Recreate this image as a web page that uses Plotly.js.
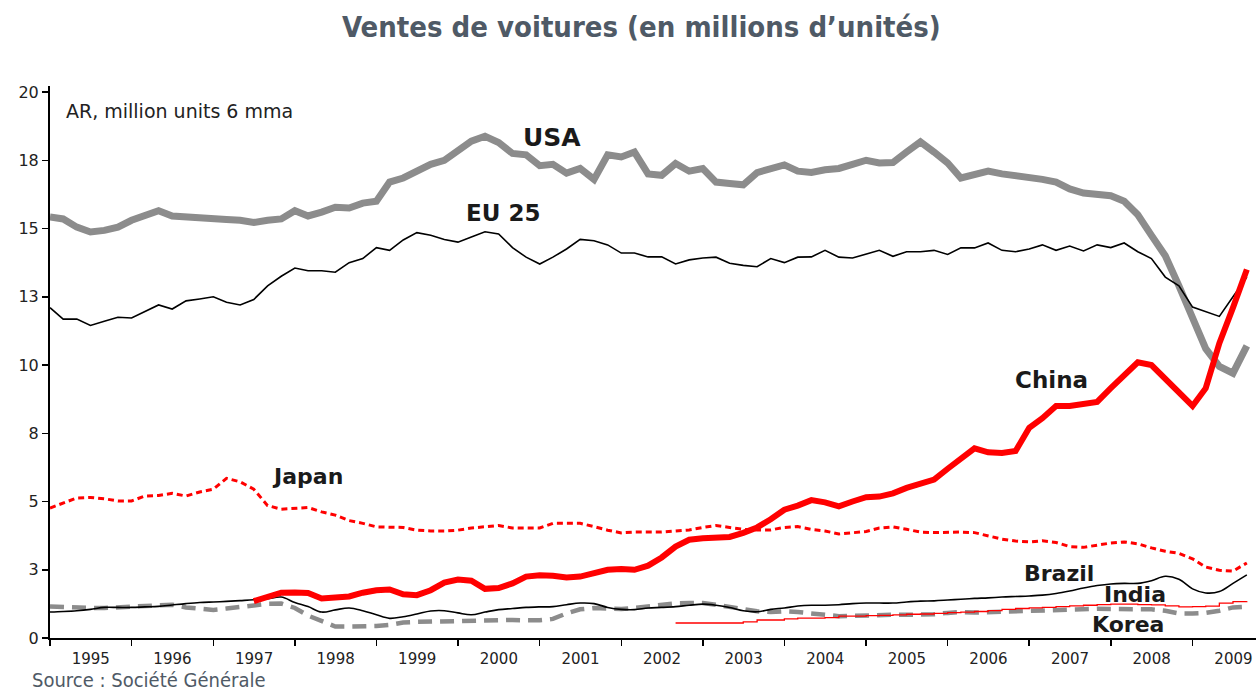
<!DOCTYPE html>
<html>
<head>
<meta charset="utf-8">
<script src="https://cdn.plot.ly/plotly-3.0.1.min.js"></script>
<style>html,body{margin:0;padding:0;background:#fff;}#chart{width:1260px;height:693px;}</style>
</head>
<body>
<div id="chart"></div>
<script>
// Bimonthly samples starting January 1995 (month index 0, step 2 months)
const usa = [15.42,15.35,15.05,14.87,14.93,15.05,15.3,15.5,15.65,15.46,
  15.42,15.36,15.31,15.33,15.3,15.22,15.3,15.35,15.65,15.46,
  15.6,15.78,15.75,15.93,16.0,16.7,16.85,17.1,17.35,17.5,
  17.85,18.2,18.38,18.15,17.75,17.7,17.3,17.35,17.03,17.2,
  16.8,17.7,17.62,17.8,17.0,16.95,17.38,17.1,17.2,16.7,
  16.65,16.6,17.05,17.2,17.33,17.1,17.05,17.15,17.2,17.35,
  17.5,17.4,17.42,17.8,18.17,17.8,17.4,16.85,17.0,17.1,
  17.0,16.95,16.88,16.8,16.7,16.45,16.3,16.27,16.2,16.0,
  15.5,14.75,14.0,12.9,11.76,10.6,9.95,9.7,10.7];
const eu25 = [12.1,11.68,11.68,11.45,11.6,11.75,11.72,11.95,12.2,12.05,
  12.35,12.42,12.5,12.3,12.2,12.4,12.9,13.25,13.55,13.45,
  13.45,13.4,13.75,13.9,14.3,14.2,14.58,14.85,14.75,14.6,
  14.5,14.69,14.88,14.8,14.3,13.95,13.7,13.95,14.25,14.6,
  14.55,14.4,14.1,14.1,13.96,13.96,13.7,13.85,13.92,13.95,
  13.73,13.65,13.6,13.9,13.75,13.95,13.96,14.2,13.95,13.92,
  14.05,14.2,13.98,14.15,14.15,14.2,14.05,14.29,14.29,14.47,
  14.2,14.15,14.25,14.4,14.2,14.36,14.18,14.4,14.3,14.47,
  14.15,13.9,13.22,12.9,12.12,11.94,11.78,12.5,13.22];
const japan = [4.76,4.94,5.13,5.15,5.1,5.02,5.02,5.2,5.22,5.3,
  5.2,5.35,5.45,5.85,5.72,5.45,4.85,4.72,4.75,4.78,
  4.62,4.5,4.3,4.2,4.07,4.07,4.05,3.95,3.92,3.92,
  3.95,4.03,4.08,4.12,4.03,4.03,4.03,4.2,4.2,4.2,
  4.08,3.95,3.85,3.88,3.88,3.88,3.92,3.96,4.05,4.12,
  4.05,3.98,3.96,3.96,4.05,4.08,3.98,3.92,3.81,3.85,
  3.9,4.03,4.07,3.98,3.88,3.86,3.88,3.88,3.86,3.75,
  3.62,3.55,3.52,3.56,3.5,3.35,3.32,3.4,3.48,3.52,
  3.45,3.3,3.18,3.1,2.9,2.6,2.48,2.45,2.75];
const brazil = [0.95,0.97,1.0,1.05,1.12,1.12,1.12,1.14,1.16,1.21,
  1.26,1.3,1.32,1.34,1.37,1.4,1.44,1.5,1.3,1.15,
  0.95,1.03,1.1,1.0,0.85,0.72,0.78,0.88,0.99,1.0,
  0.92,0.85,0.95,1.04,1.08,1.12,1.14,1.15,1.22,1.28,
  1.26,1.12,1.05,1.04,1.1,1.12,1.15,1.2,1.24,1.2,
  1.12,1.0,0.96,1.05,1.1,1.17,1.2,1.2,1.22,1.26,
  1.28,1.28,1.28,1.32,1.35,1.36,1.39,1.42,1.45,1.47,
  1.5,1.52,1.54,1.57,1.63,1.72,1.83,1.92,1.98,2.0,
  2.0,2.1,2.26,2.15,1.8,1.65,1.7,2.0,2.31];
const korea = [1.15,1.12,1.1,1.1,1.1,1.12,1.15,1.18,1.2,1.22,
  1.12,1.08,1.03,1.08,1.14,1.18,1.25,1.26,1.1,0.82,
  0.6,0.42,0.42,0.42,0.44,0.48,0.57,0.59,0.6,0.63,
  0.66,0.66,0.66,0.66,0.66,0.65,0.65,0.7,0.9,1.05,
  1.1,1.08,1.06,1.1,1.16,1.22,1.27,1.28,1.28,1.22,
  1.14,1.08,0.98,0.95,0.98,0.95,0.92,0.85,0.8,0.82,
  0.84,0.84,0.85,0.85,0.85,0.87,0.92,0.95,0.93,0.95,
  0.97,0.98,0.99,1.0,1.02,1.05,1.08,1.07,1.06,1.06,
  1.06,1.05,1.0,0.9,0.9,0.92,1.0,1.12,1.15];
// China starts July 1997 (month index 30), India starts September 2002 (month index 92)
const chinaStart = 30;
const china = [1.35,1.5,1.66,1.67,1.65,1.45,1.48,1.52,1.66,1.75,
  1.78,1.6,1.57,1.75,2.03,2.14,2.1,1.8,1.83,2.0,
  2.25,2.3,2.28,2.22,2.25,2.38,2.5,2.53,2.5,2.65,
  2.95,3.35,3.6,3.65,3.68,3.7,3.85,4.05,4.35,4.7,
  4.85,5.05,4.97,4.82,5.0,5.16,5.18,5.3,5.5,5.68,
  5.8,6.2,6.55,6.95,6.8,6.78,6.85,7.7,8.05,8.5,
  8.5,8.6,8.65,9.15,9.6,10.1,10.0,9.5,9.0,8.5,
  9.15,10.8,12.1,13.5];
const indiaStart = 92;
const india = [0.55,0.55,0.55,0.55,0.55,0.59,0.66,0.66,0.7,0.73,
  0.73,0.75,0.8,0.8,0.82,0.83,0.85,0.87,0.88,0.9,
  0.93,0.95,0.97,1.0,1.05,1.08,1.1,1.12,1.15,1.18,
  1.2,1.22,1.24,1.24,1.22,1.21,1.18,1.14,1.15,1.17,
  1.28,1.33,1.35];

const yTickVals = [0,2.5,5,7.5,10,12.5,15,17.5,20];
const yTickText = ['0','3','5','8','10','13','15','18','20'];

function dates(startMonth, n, step) {
  const out = [];
  for (let k = 0; k < n; k++) {
    const m = startMonth + k * step;
    const y = 1995 + Math.floor(m / 12);
    const mm = (m % 12) + 1;
    out.push(y + '-' + (mm < 10 ? '0' : '') + mm + '-01');
  }
  return out;
}

const GRAY = '#8c8c8c';
const traces = [
  {name:'USA', x:dates(0, usa.length, 2), y:usa, mode:'lines', line:{color:GRAY, width:7}},
  {name:'EU 25', x:dates(0, eu25.length, 2), y:eu25, mode:'lines', line:{color:'#000', width:1.6}},
  {name:'Japan', x:dates(0, japan.length, 2), y:japan, mode:'lines', line:{color:'#ff0000', width:3, dash:'6px,4px'}},
  {name:'Korea', x:dates(0, korea.length, 2), y:korea, mode:'lines', line:{color:GRAY, width:4.5, dash:'14px,8px'}},
  {name:'Brazil', x:dates(0, brazil.length, 2), y:brazil, mode:'lines', line:{color:'#000', width:1.6, shape:'spline'}},
  {name:'India', x:dates(indiaStart, india.length, 2), y:india, mode:'lines', line:{color:'#ff0000', width:1.3, shape:'hv'}},
  {name:'China', x:dates(chinaStart, china.length, 2), y:china, mode:'lines', line:{color:'#ff0000', width:6}}
];

const labFont = {family:'DejaVu Sans, Arial, sans-serif', size:23, color:'#1a1a1a', weight:'bold'};
function lab(text, x, y, size) {
  return {text:'<b>'+text+'</b>', x:x, y:y, xref:'x', yref:'y', showarrow:false,
    xanchor:'center', yanchor:'middle', font:Object.assign({}, labFont, {size:size})};
}

const layout = {
  width:1260, height:693,
  margin:{l:50, r:4, t:86, b:55},
  paper_bgcolor:'#fff', plot_bgcolor:'#fff',
  showlegend:false,
  title:{text:'<b>Ventes de voitures (en millions d\u2019unités)</b>', xref:'container', yref:'container',
    x:0.509, y:0.961, xanchor:'center', yanchor:'middle',
    font:{family:'Liberation Sans Narrow, DejaVu Sans Condensed, Arial Narrow, sans-serif', size:29, color:'#4f5a66'}},
  xaxis:{type:'date', range:['1995-01-01','2009-10-12'], tick0:'1995-01-01', dtick:'M12',
    tickformat:'%Y', ticklabelmode:'period', ticks:'outside', ticklen:6, tickwidth:1.5, tickcolor:'#000',
    showline:true, linecolor:'#000', linewidth:1.5, showgrid:false, zeroline:false,
    tickfont:{family:'DejaVu Sans, Arial, sans-serif', size:15, color:'#222'}},
  yaxis:{range:[0,20.22], tickvals:yTickVals, ticktext:yTickText, ticks:'outside', ticklen:6,
    tickwidth:1.5, tickcolor:'#000', showline:true, linecolor:'#000', linewidth:2,
    showgrid:false, zeroline:false,
    tickfont:{family:'DejaVu Sans, Arial, sans-serif', size:16, color:'#222'}},
  annotations:[
    lab('USA','2001-02-25',18.35,25),
    lab('EU 25','2000-07-20',15.57,23),
    lab('China','2007-04-10',9.45,23),
    lab('Japan','1998-02-25',5.93,22),
    lab('Brazil','2007-05-15',2.38,22),
    lab('India','2008-04-20',1.58,22),
    lab('Korea','2008-03-20',0.48,22),
    {text:'AR, million units 6 mma', xref:'paper', yref:'paper', x:0.0116, y:0.955,
      xanchor:'left', yanchor:'middle', showarrow:false,
      font:{family:'DejaVu Sans, Arial, sans-serif', size:19, color:'#222'}},
    {text:'Source : Société Générale', xref:'paper', yref:'paper', x:-0.0166, y:-0.0761,
      xanchor:'left', yanchor:'middle', showarrow:false,
      font:{family:'Liberation Sans Narrow, DejaVu Sans Condensed, Arial Narrow, sans-serif', size:20, color:'#4f5a66'}}
  ]
};

Plotly.newPlot('chart', traces, layout, {displayModeBar:false, staticPlot:true});
</script>
</body>
</html>
